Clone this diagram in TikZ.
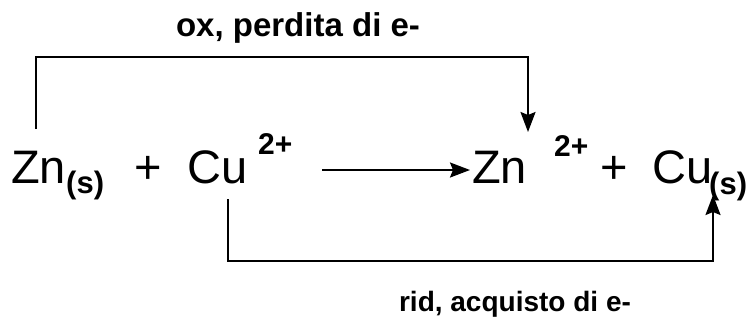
\documentclass[tikz,border=0pt]{standalone}
\usepackage{fontspec}
\setmainfont{Liberation Sans}
\usetikzlibrary{arrows.meta}
\tikzset{
  species/.style={anchor=base west,inner sep=0pt,font=\fontsize{47}{47}\selectfont},
  state/.style={anchor=base west,inner sep=0pt,font=\fontsize{31}{31}\selectfont\bfseries},
  charge/.style={anchor=base west,inner sep=0pt,font=\fontsize{30}{30}\selectfont\bfseries},
  redox/.style={anchor=base,inner sep=0pt,font=\fontsize{28}{28}\selectfont\bfseries},
  link/.style={line width=2pt,-{Stealth[length=20pt,width=15pt,inset=3pt]}}
}
\begin{document}
\begin{tikzpicture}[x=1pt,y=-1pt]
  \useasboundingbox (0,0) rectangle (754,324);
  % reagenti
  \node[species] (zna) at (11,183) {Zn};
  \node[state] (zns) at (66,193) {(s)};
  \node[species] (plusa) at (134,183) {+};
  \node[species] (cua) at (187,183) {Cu};
  \node[charge] (cuch) at (258,154) {2+};
  % prodotti
  \node[species] (znb) at (472,183) {Zn};
  \node[charge] (znch) at (554,156) {2+};
  \node[species] (plusb) at (600,183) {+};
  \node[species] (cub) at (652,183) {Cu};
  \node[state] (cus) at (709,194) {(s)};
  % etichette
  \node[redox,font=\fontsize{33}{33}\selectfont\bfseries] (oxlab) at (298,36) {ox, perdita di e-};
  \node[redox] (ridlab) at (515,311) {rid, acquisto di e-};
  % estremi delle frecce
  \coordinate (oxa) at (36,129);
  \coordinate (oxb) at (528,132);
  \coordinate (reaca) at (322,170);
  \coordinate (reacb) at (470,170);
  \coordinate (rida) at (228,199);
  \coordinate (ridb) at (713,195);
  \draw[link] (oxa) -- ++(0,-72) -| (oxb);
  \draw[link] (reaca) -- (reacb);
  \draw[link] (rida) -- ++(0,62) -| (ridb);
\end{tikzpicture}
\end{document}
